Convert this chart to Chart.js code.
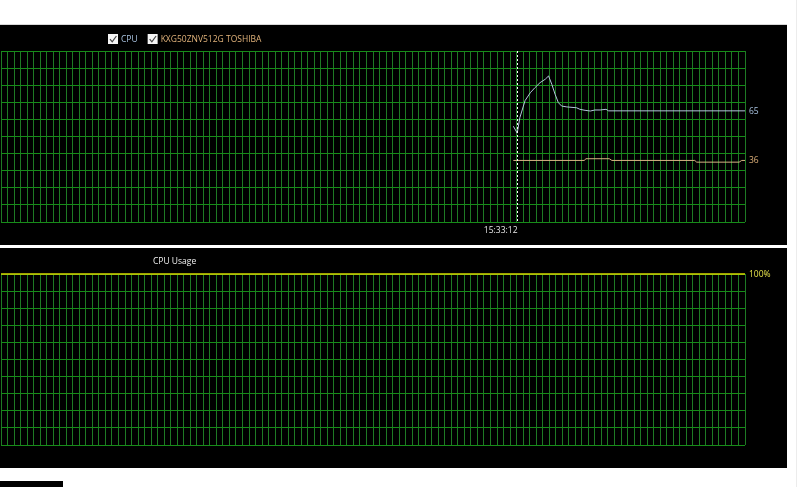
<!DOCTYPE html>
<html>
<head>
<meta charset="utf-8">
<script src="https://cdn.jsdelivr.net/npm/chart.js@4.4.1/dist/chart.umd.min.js"></script>
<style>
  html, body { margin: 0; padding: 0; background: #ffffff; width: 800px; height: 487px; overflow: hidden; position: relative; }
  .panel { position: absolute; left: 0; width: 787px; background: #000; }
  #topPanel { top: 24px; height: 221px; border-top: 1px solid #d8d8d8; box-sizing: border-box; }
  #bottomPanel { top: 248px; height: 220px; }
  canvas { position: absolute; left: 0; top: 0; }
  #stub { position: absolute; left: 0; top: 481px; width: 63px; height: 6px; background: #000; }
  #edge { position: absolute; left: 796px; top: 0; width: 1px; height: 487px; background: #ececec; }
</style>
</head>
<body>
<div id="topPanel" class="panel"><canvas id="tempChart" width="787" height="220"></canvas></div>
<div id="bottomPanel" class="panel"><canvas id="usageChart" width="787" height="220"></canvas></div>
<div id="stub"></div>
<div id="edge"></div>
<script>
// Time window: one grid cell per second, 114 seconds shown
const windowSeconds = 114;

// CPU temperature (°C) with sample positions (seconds into the window)
const cpuSec  = [78.5, 79.1, 79.5, 80.3, 81.1, 81.8, 82.6, 83.4, 83.9, 84.4, 84.9, 85.4, 85.9, 86.7, 88.2, 88.7, 89.5, 90.3, 91.0, 91.8, 92.7, 93.1, 114];
const cpuTemp = [56, 52, 61, 71, 75.6, 78.5, 81.5, 83.5, 85.4, 80.5, 74.7, 69.8, 67.8, 67.3, 66.8, 65.9, 65.3, 64.9, 65.5, 65.5, 65.9, 65, 65];

// Drive temperature (°C)
const driveSec  = [78.5, 89.4, 89.6, 93.2, 93.6, 106.3, 106.6, 113.1, 113.5, 114];
const driveTemp = [36, 36, 37, 37, 36, 36, 35, 35, 36, 36];

// CPU usage (%)
const usageSec = [0, 114];
const usage    = [100, 100];

// Marker on the time axis
const markerSec   = [79];
const markerLabel = ['15:33:12'];

const FONT = '8.5px "Open Sans", "Noto Sans", sans-serif';
const H_GRID = '#178c19';
const V_GRID = '#1e7a24';

const pts = (xs, ys) => xs.map((x, i) => ({ x, y: ys[i] }));

const hideSize = {
  x: s => { s.height = 0; },
  y: s => { s.width = 0; }
};

function scales() {
  return {
    x: {
      type: 'linear', min: 0, max: windowSeconds,
      afterFit: hideSize.x,
      border: { display: false },
      grid: { color: V_GRID, lineWidth: 1, drawTicks: false },
      ticks: { display: false, stepSize: 1, autoSkip: false, maxTicksLimit: 1000 }
    },
    y: {
      min: 0, max: 100,
      afterFit: hideSize.y,
      border: { display: false },
      grid: { color: H_GRID, lineWidth: 1, drawTicks: false },
      ticks: { display: false, stepSize: 10 }
    }
  };
}

// value label placed just right of each series' final point
const endLabels = {
  id: 'endLabels',
  afterDatasetsDraw(chart, args, opts) {
    const ctx = chart.ctx;
    ctx.save();
    ctx.font = FONT;
    ctx.textBaseline = 'middle';
    ctx.textAlign = 'left';
    chart.data.datasets.forEach((ds, i) => {
      const meta = chart.getDatasetMeta(i);
      const last = meta.data[meta.data.length - 1];
      const val = ds.data[ds.data.length - 1].y;
      ctx.fillStyle = ds.labelColor || ds.borderColor;
      ctx.fillText(String(Math.round(val)) + (opts.suffix || ''), last.x + 4, last.y + 0.5);
    });
    ctx.restore();
  }
};

// checkbox legend across the top
const checkLegend = {
  id: 'checkLegend',
  afterDraw(chart, args, opts) {
    const ctx = chart.ctx;
    ctx.save();
    ctx.font = FONT;
    ctx.textBaseline = 'middle';
    let x = opts.x;
    const cy = opts.y;
    chart.data.datasets.forEach(ds => {
      ctx.fillStyle = '#f4f4f4';
      ctx.fillRect(x, cy - 5, 10, 10);
      ctx.strokeStyle = '#444';
      ctx.lineWidth = 1.2;
      ctx.beginPath();
      ctx.moveTo(x + 2, cy + 0.2);
      ctx.lineTo(x + 4.2, cy + 2.8);
      ctx.lineTo(x + 8.4, cy - 3);
      ctx.stroke();
      x += 13;
      ctx.fillStyle = ds.labelColor || ds.borderColor;
      ctx.fillText(ds.label, x, cy + 0.5);
      x += ctx.measureText(ds.label).width + 10;
    });
    ctx.restore();
  }
};

// dashed time marker with its label
const timeMarker = {
  id: 'timeMarker',
  afterDatasetsDraw(chart) {
    const { ctx, chartArea, scales: { x } } = chart;
    ctx.save();
    markerSec.forEach((s, i) => {
      const px = Math.round(x.getPixelForValue(s)) + 0.5;
      ctx.strokeStyle = '#ffffff';
      ctx.lineWidth = 1;
      ctx.setLineDash([2, 2]);
      ctx.beginPath();
      ctx.moveTo(px, chartArea.top);
      ctx.lineTo(px, chartArea.bottom);
      ctx.stroke();
      ctx.setLineDash([]);
      ctx.font = FONT;
      ctx.fillStyle = '#e6e6e6';
      ctx.textAlign = 'right';
      ctx.textBaseline = 'middle';
      ctx.fillText(markerLabel[i], px, chartArea.bottom + 9);
    });
    ctx.restore();
  }
};

// panel title
const panelTitle = {
  id: 'panelTitle',
  afterDraw(chart, args, opts) {
    const ctx = chart.ctx;
    ctx.save();
    ctx.font = FONT;
    ctx.fillStyle = '#f0f0f0';
    ctx.textBaseline = 'middle';
    ctx.fillText(opts.text, opts.x, opts.y);
    ctx.restore();
  }
};

const layout = { padding: { left: 1, right: 42, top: 26, bottom: 23 } };

new Chart(document.getElementById('tempChart'), {
  type: 'line',
  data: {
    datasets: [
      { label: 'CPU', data: pts(cpuSec, cpuTemp), borderColor: '#b3c6dc', labelColor: '#a9c3e0', borderWidth: 1, pointRadius: 0, tension: 0 },
      { label: 'KXG50ZNV512G TOSHIBA', data: pts(driveSec, driveTemp), borderColor: '#d6b282', labelColor: '#e0b27a', borderWidth: 1, pointRadius: 0, tension: 0 }
    ]
  },
  options: {
    responsive: false, animation: false, devicePixelRatio: 1,
    layout,
    scales: scales(),
    plugins: {
      legend: { display: false }, tooltip: { enabled: false },
      checkLegend: { x: 108, y: 14 },
      endLabels: { suffix: '' }
    }
  },
  plugins: [checkLegend, endLabels, timeMarker]
});

new Chart(document.getElementById('usageChart'), {
  type: 'line',
  data: {
    datasets: [
      { label: 'CPU Usage', data: pts(usageSec, usage), borderColor: '#d8d800', labelColor: '#e6e24a', borderWidth: 1.5, pointRadius: 0, tension: 0, clip: 4 }
    ]
  },
  options: {
    responsive: false, animation: false, devicePixelRatio: 1,
    layout,
    scales: scales(),
    plugins: {
      legend: { display: false }, tooltip: { enabled: false },
      panelTitle: { text: 'CPU Usage', x: 153, y: 14 },
      endLabels: { suffix: '%' }
    }
  },
  plugins: [panelTitle, endLabels]
});
</script>
</body>
</html>
